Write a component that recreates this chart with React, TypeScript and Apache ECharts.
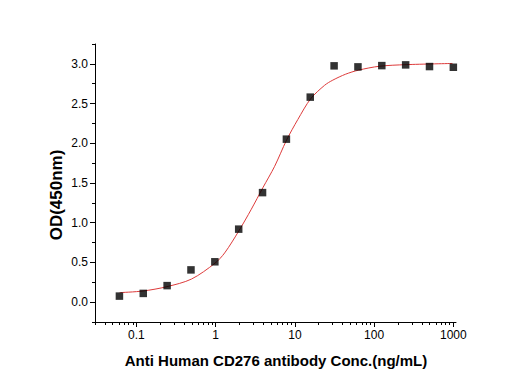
import React, { useEffect, useRef } from "react";
import * as echarts from "echarts";

// Measured points: concentration (ng/mL) and OD(450nm)
const pointConc = [0.061, 0.122, 0.244, 0.488, 0.977, 1.953, 3.906, 7.813, 15.625, 31.25, 62.5, 125, 250, 500, 1000];
const pointOD = [0.076, 0.11, 0.208, 0.406, 0.508, 0.919, 1.379, 2.052, 2.581, 2.975, 2.962, 2.978, 2.987, 2.966, 2.957];

// Fitted curve
const curveConc = [0.0615, 0.121, 0.243, 0.494, 0.98, 1.3, 1.97, 2.82, 3.94, 5.55, 7.85, 10.9, 15.8, 23.7, 30.1, 43.7, 63.1, 117, 254, 975];
const curveOD = [0.12, 0.14, 0.195, 0.29, 0.49, 0.62, 0.9, 1.17, 1.44, 1.71, 2.04, 2.3, 2.56, 2.73, 2.795, 2.87, 2.92, 2.97, 2.99, 3.005];

// Axis ticks
const xMajorTicks = [0.1, 1, 10, 100, 1000];
const xTickLabels = ["0.1", "1", "10", "100", "1000"];
const xMinorTicks = [
  0.03, 0.04, 0.05, 0.06, 0.07, 0.08, 0.09,
  0.2, 0.3, 0.4, 0.5, 0.6, 0.7, 0.8, 0.9,
  2, 3, 4, 5, 6, 7, 8, 9,
  20, 30, 40, 50, 60, 70, 80, 90,
  200, 300, 400, 500, 600, 700, 800, 900,
];
const xMin = 0.03;
const xMax = 1080;
const yMajorTicks = [0, 0.5, 1.0, 1.5, 2.0, 2.5, 3.0];
const yMinorTicks = [-0.25, 0.25, 0.75, 1.25, 1.75, 2.25, 2.75, 3.25];
const yMin = -0.25;
const yMax = 3.25;

const xTitle = "Anti Human CD276 antibody Conc.(ng/mL)";
const yTitle = "OD(450nm)";

const FONT = "'Liberation Sans', Arial, Helvetica, sans-serif";
const lg = (v: number) => Math.log10(v);

export default function App() {
  const ref = useRef<HTMLDivElement>(null);
  useEffect(() => {
    if (!ref.current) return;
    const chart = echarts.init(ref.current, undefined, { renderer: "svg" });
    const lmin = lg(xMin);
    const lmax = lg(xMax);
    const majorL = xMajorTicks.map(lg);
    const minorL = xMinorTicks.map(lg);
    const labelFor = (v: number) => {
      const i = majorL.findIndex((m) => Math.abs(m - v) < 1e-6);
      return i >= 0 ? xTickLabels[i] : "";
    };
    const axisLineStyle = { color: "#000", width: 1 };
    chart.setOption({
      animation: false,
      backgroundColor: "#fff",
      grid: { left: 95, top: 44, width: 361, height: 278, containLabel: false },
      xAxis: [
        {
          type: "value",
          position: "bottom",
          min: lmin,
          max: lmax,
          axisLine: { show: true, onZero: false, lineStyle: axisLineStyle },
          axisTick: { show: true, customValues: majorL, length: 5, lineStyle: axisLineStyle },
          axisLabel: {
            customValues: majorL,
            formatter: (v: number) => labelFor(v),
            margin: 7,
            fontSize: 12,
            color: "#000",
            fontFamily: FONT,
          },
          splitLine: { show: false },
        },
        {
          type: "value",
          position: "bottom",
          min: lmin,
          max: lmax,
          axisLine: { show: false, onZero: false },
          axisTick: { show: true, customValues: minorL, length: 3, lineStyle: axisLineStyle },
          axisLabel: { show: false },
          splitLine: { show: false },
        },
      ],
      yAxis: [
        {
          type: "value",
          position: "left",
          min: yMin,
          max: yMax,
          axisLine: { show: true, onZero: false, lineStyle: axisLineStyle },
          axisTick: { show: true, customValues: yMajorTicks, length: 5, lineStyle: axisLineStyle },
          axisLabel: {
            customValues: yMajorTicks,
            formatter: (v: number) => v.toFixed(1),
            margin: 7,
            fontSize: 12,
            color: "#000",
            fontFamily: FONT,
          },
          splitLine: { show: false },
        },
        {
          type: "value",
          position: "left",
          min: yMin,
          max: yMax,
          axisLine: { show: false, onZero: false },
          axisTick: { show: true, customValues: yMinorTicks, length: 3, lineStyle: axisLineStyle },
          axisLabel: { show: false },
          splitLine: { show: false },
        },
      ],
      series: [
        {
          type: "line",
          xAxisIndex: 0,
          yAxisIndex: 0,
          data: curveConc.map((c, i) => [lg(c), curveOD[i]]),
          smooth: 0.3,
          showSymbol: false,
          symbol: "none",
          lineStyle: { color: "#dd3b3b", width: 1 },
          z: 2,
        },
        {
          type: "scatter",
          xAxisIndex: 0,
          yAxisIndex: 0,
          data: pointConc.map((c, i) => [lg(c), pointOD[i]]),
          symbol: "rect",
          symbolSize: 7.5,
          itemStyle: { color: "#000" },
          z: 3,
        },
      ],
      graphic: [
        {
          type: "text",
          x: 276,
          y: 360,
          style: {
            text: xTitle,
            font: `bold 15px ${FONT}`,
            fill: "#000",
            textAlign: "center",
            textVerticalAlign: "middle",
          },
        },
        {
          type: "text",
          x: 56,
          y: 195,
          rotation: Math.PI / 2,
          style: {
            text: yTitle,
            font: `bold 17px ${FONT}`,
            fill: "#000",
            textAlign: "center",
            textVerticalAlign: "middle",
          },
        },
      ],
    });
    return () => chart.dispose();
  }, []);
  return (
    <div
      ref={ref}
      style={{ position: "fixed", left: 0, top: 0, width: 532, height: 386, background: "#fff" }}
    />
  );
}
